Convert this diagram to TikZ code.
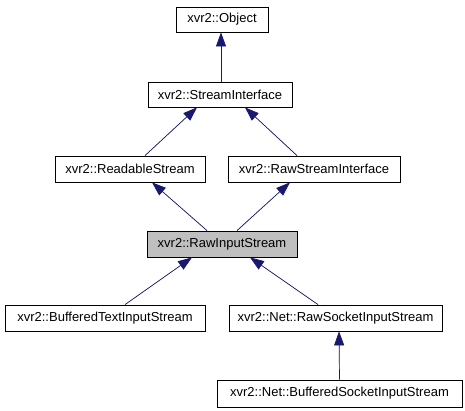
\documentclass[tikz,border=0pt]{standalone}
\usepackage{fontspec}
\setmainfont{Liberation Sans}
\usetikzlibrary{arrows.meta}
\definecolor{edgeblue}{HTML}{191970}
\definecolor{curgray}{HTML}{BFBFBF}

\begin{document}
\begin{tikzpicture}[x=1pt,y=-1pt,>={Triangle[length=14pt,width=10pt]},
    cls/.style={draw=black,line width=0.8pt,minimum height=26pt,inner sep=0pt,
      font=\fontsize{13}{15}\selectfont},
    inh/.style={<-,draw=edgeblue,fill=edgeblue,line width=0.7pt}]
  \useasboundingbox (0,0) rectangle (465,411);

  \node[cls,minimum width=92pt,minimum height=25pt] (obj) at (222,19.5) {xvr2::Object};
  \node[cls,minimum width=144pt,minimum height=25pt] (sif) at (220,94.5) {xvr2::StreamInterface};

  \node[cls,minimum width=150pt] (rdbl) at (130,169) {xvr2::ReadableStream};
  \node[cls,minimum width=172pt] (rsif) at (314,169) {xvr2::RawStreamInterface};

  \node[cls,minimum width=150pt,fill=curgray] (rin) at (222,244) {xvr2::RawInputStream};

  \node[cls,minimum width=200pt] (btin) at (105,318) {xvr2::BufferedTextInputStream};
  \node[cls,minimum width=213pt] (rsock) at (335.5,318) {xvr2::Net::RawSocketInputStream};
  \node[cls,minimum width=245pt,minimum height=27pt] (bsock) at (339.5,393.5) {xvr2::Net::BufferedSocketInputStream};

  % inheritance arrows
  \draw[inh] ([xshift=-1pt]obj.south) -- ([xshift=1pt]sif.north);
  \draw[inh] ([xshift=-23pt]sif.south) -- ([xshift=15pt]rdbl.north);
  \draw[inh] ([xshift=25pt]sif.south) -- ([xshift=-17pt]rsif.north);
  \draw[inh] ([xshift=22pt]rdbl.south) -- ([xshift=-15pt]rin.north);
  \draw[inh] ([xshift=-24pt]rsif.south) -- ([xshift=15pt]rin.north);
  \draw[inh] ([xshift=-30pt]rin.south) -- ([xshift=20pt]btin.north);
  \draw[inh] ([xshift=28pt]rin.south) -- ([xshift=-17.5pt]rsock.north);
  \draw[inh] ([xshift=3.5pt]rsock.south) -- (bsock.north);
\end{tikzpicture}
\end{document}
